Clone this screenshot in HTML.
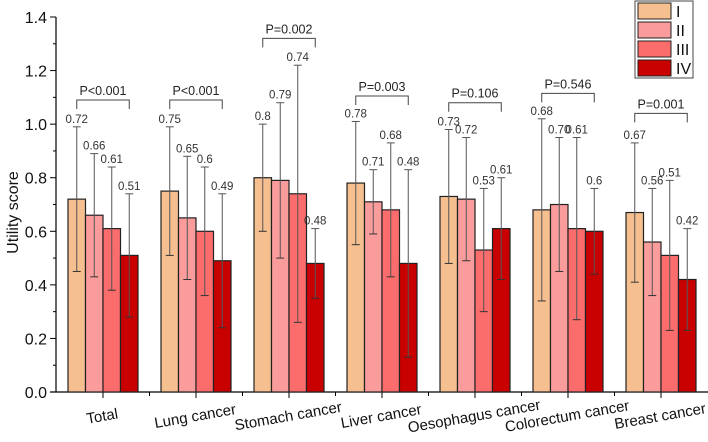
<!DOCTYPE html>
<html><head><meta charset="utf-8"><style>
body{margin:0;background:#fff;}
svg{font-family:"Liberation Sans",Arial,sans-serif;}
</style></head><body>
<svg id="chart" width="708" height="437"></svg>
<script>
const categories=["Total","Lung cancer","Stomach cancer","Liver cancer","Oesophagus cancer","Colorectum cancer","Breast cancer"];
const stages=["I","II","III","IV"];
const means=[[0.72,0.66,0.61,0.51],[0.75,0.65,0.6,0.49],[0.8,0.79,0.74,0.48],[0.78,0.71,0.68,0.48],[0.73,0.72,0.53,0.61],[0.68,0.70,0.61,0.6],[0.67,0.56,0.51,0.42]];
const labels=[["0.72","0.66","0.61","0.51"],["0.75","0.65","0.6","0.49"],["0.8","0.79","0.74","0.48"],["0.78","0.71","0.68","0.48"],["0.73","0.72","0.53","0.61"],["0.68","0.70","0.61","0.6"],["0.67","0.56","0.51","0.42"]];
const lower=[[0.45,0.43,0.38,0.28],[0.51,0.42,0.36,0.24],[0.6,0.5,0.26,0.35],[0.55,0.59,0.43,0.13],[0.48,0.49,0.3,0.42],[0.34,0.45,0.27,0.44],[0.41,0.36,0.23,0.23]];
const upper=[[0.99,0.89,0.84,0.74],[0.99,0.88,0.84,0.74],[1.0,1.08,1.22,0.61],[1.01,0.83,0.93,0.83],[0.98,0.95,0.76,0.8],[1.02,0.95,0.95,0.76],[0.93,0.76,0.79,0.61]];
const pLabels=["P<0.001","P<0.001","P=0.002","P=0.003","P=0.106","P=0.546","P=0.001"];
const pHeights=[1.09,1.09,1.32,1.105,1.08,1.115,1.04];
const yTicks=[0,0.2,0.4,0.6,0.8,1.0,1.2,1.4];
const colors=["#F6BF8F","#FB9C9C","#FB6D6D","#C90000"];
const svg=document.getElementById('chart');const NS="http://www.w3.org/2000/svg";
function mk(t,a,p){const e=document.createElementNS(NS,t);for(const k in a)e.setAttribute(k,a[k]);(p||svg).appendChild(e);return e;}
const y0=392,yTop=17,xL=56,xR=708;
const Y=v=>y0-(v/1.4)*(y0-yTop);
const groupStart=i=>68+i*93, bw=17.5;
const X=(i,j)=>groupStart(i)+j*bw;
let ax=mk('line',{x1:xL,y1:yTop,x2:xL,y2:y0,stroke:'#000','stroke-width':1.2});

let xa=mk('line',{x1:xL-6,y1:y0,x2:xR,y2:y0,stroke:'#000','stroke-width':1.2});

yTicks.forEach((v,k)=>{mk('line',{x1:xL-6,y1:Y(v),x2:xL,y2:Y(v),stroke:'#000'});
 if(k<yTicks.length-1)mk('line',{x1:xL-3,y1:Y(v+0.1),x2:xL,y2:Y(v+0.1),stroke:'#000'});
 const t=mk('text',{x:xL-9,y:Y(v)+6,'text-anchor':'end','font-size':16,fill:'#111'});t.textContent=v.toFixed(1);
 });
const yt=mk('text',{x:18,y:(y0+yTop)/2+8,'text-anchor':'middle','font-size':16,fill:'#111',transform:`rotate(-90 18 ${(y0+yTop)/2+8})`});yt.textContent='Utility score';

categories.forEach((c,i)=>{
 const cx=groupStart(i)+2*bw;
 mk('line',{x1:cx,y1:y0,x2:cx,y2:y0+6,stroke:'#000'});
 if(i<categories.length-1)mk('line',{x1:cx+46.5,y1:y0,x2:cx+46.5,y2:y0+4,stroke:'#000'});
 const t=mk('text',{x:cx,y:y0+29,'text-anchor':'middle','font-size':15,fill:'#111',transform:`rotate(-10 ${cx} ${y0+29})`});t.textContent=c;
 
 means[i].forEach((m,j)=>{
  const r=mk('rect',{x:X(i,j),y:Y(m),width:bw,height:y0-Y(m),fill:colors[j],stroke:'#222','stroke-width':1.2});
  
  const ex=X(i,j)+bw/2;
  const e=mk('line',{x1:ex,y1:Y(upper[i][j]),x2:ex,y2:Y(lower[i][j]),stroke:'#555','stroke-width':1});
  
  mk('line',{x1:ex-4,y1:Y(upper[i][j]),x2:ex+4,y2:Y(upper[i][j]),stroke:'#555'});
  mk('line',{x1:ex-4,y1:Y(lower[i][j]),x2:ex+4,y2:Y(lower[i][j]),stroke:'#333'});
  const l=mk('text',{x:ex,y:Y(upper[i][j])-4,'text-anchor':'middle','font-size':11.5,fill:'#333'});l.textContent=labels[i][j];
  
 });
 const bx1=X(i,0)+bw/2,bx2=X(i,3)+bw/2,by=Y(pHeights[i]);
 const b=mk('path',{d:`M${bx1} ${by+9}V${by}H${bx2}V${by+9}`,fill:'none',stroke:'#444','stroke-width':1});
 
 const p=mk('text',{x:(bx1+bx2)/2,y:by-5,'text-anchor':'middle','font-size':12.5,fill:'#222'});p.textContent=pLabels[i];
 
});
const lg=mk('g',{});
mk('rect',{x:635,y:1,width:58,height:77,fill:'#fff',stroke:'#444'},lg);
stages.forEach((s,j)=>{
 const r=mk('rect',{x:638,y:3+j*19,width:33,height:16,fill:colors[j],stroke:'#222'},lg);
 
 const t=mk('text',{x:676,y:17+j*19,'font-size':16,fill:'#111'},lg);t.textContent=s;
 
});
</script>
</body></html>
